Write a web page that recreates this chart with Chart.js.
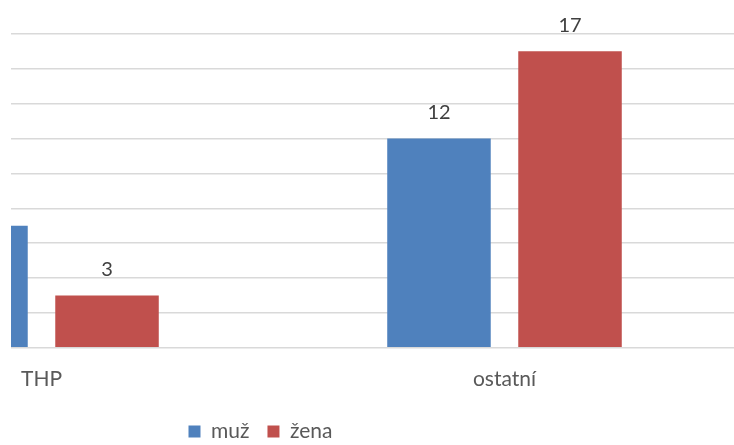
<!DOCTYPE html>
<html lang="cs">
<head>
<meta charset="utf-8">
<title>muž / žena</title>
<script src="https://cdn.jsdelivr.net/npm/chart.js@4/dist/chart.umd.min.js"></script>
<style>
    html, body { margin: 0; padding: 0; background: #fff; overflow: hidden; }
    body { width: 734px; height: 445px; position: relative; }
    /* the plot is clipped on the left, like the source sheet */
    #frame { position: absolute; left: 11px; top: 0; width: 723px; height: 445px; overflow: hidden; }
    #wrap { position: absolute; left: -226px; top: -1px; width: 951px; height: 457px; }
</style>
</head>
<body>
<div id="frame">
    <div id="wrap"><canvas id="chart"></canvas></div>
</div>
<script>
const categories = ['THP', 'ostatní'];
const seriesNames = ['muž', 'žena'];
const menValues = [7, 12];
const womenValues = [3, 17];

const FONT = 'Lato, "Open Sans", sans-serif';

// value labels above each bar
const barLabels = {
    id: 'barLabels',
    afterDatasetsDraw(chart) {
        const ctx = chart.ctx;
        ctx.save();
        ctx.font = '20px ' + FONT;
        ctx.fillStyle = '#404040';
        ctx.textAlign = 'center';
        ctx.textBaseline = 'middle';
        chart.data.datasets.forEach((ds, i) => {
            chart.getDatasetMeta(i).data.forEach((bar, j) => {
                ctx.fillText(String(ds.data[j]), bar.x, bar.y - 26);
            });
        });
        ctx.restore();
    }
};

const chart = new Chart(document.getElementById('chart'), {
    type: 'bar',
    data: {
        labels: categories,
        datasets: [
            { label: seriesNames[0], data: menValues, backgroundColor: '#4F81BD' },
            { label: seriesNames[1], data: womenValues, backgroundColor: '#C0504D' }
        ]
    },
    options: {
        responsive: true,
        maintainAspectRatio: false,
        animation: false,
        layout: { padding: { left: 0, right: 0, top: 0, bottom: 4 } },
        categoryPercentage: 0.566,
        barPercentage: 0.79,
        plugins: {
            legend: {
                position: 'bottom',
                labels: {
                    font: { family: FONT, size: 21 },
                    color: '#595959',
                    boxWidth: 12,
                    boxHeight: 12,
                    padding: 18
                }
            },
            tooltip: { enabled: false }
        },
        scales: {
            x: {
                grid: { display: false },
                border: { display: true, color: '#D9D9D9', width: 1 },
                ticks: { font: { family: FONT, size: 21 }, color: '#595959', padding: 11 }
            },
            y: {
                min: 0,
                max: 20,
                ticks: { stepSize: 2, display: false },
                border: { display: false },
                grid: { color: '#D9D9D9', lineWidth: 1.5, drawTicks: false },
                // empty strip left of the plot, keeps the legend off-centre
                afterFit(scale) { scale.width = 25; }
            }
        }
    },
    plugins: [barLabels]
});
</script>
</body>
</html>
